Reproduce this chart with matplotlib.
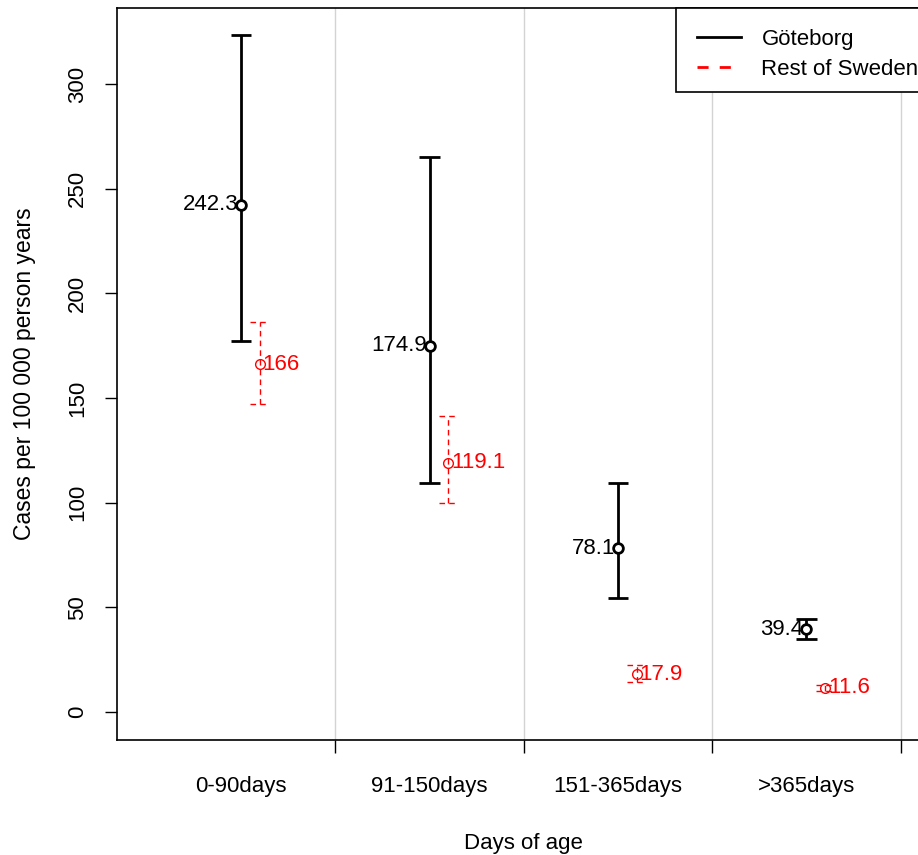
import matplotlib.pyplot as plt
import numpy as np
from matplotlib.lines import Line2D
from matplotlib.patches import Rectangle

plt.rcParams["font.family"] = ["Liberation Sans", "DejaVu Sans"]

categories = ["0-90days", "91-150days", "151-365days", ">365days"]
gbg_rate = [242.3, 174.9, 78.1, 39.4]
gbg_low = [177.2, 109.6, 54.2, 34.8]
gbg_high = [323.4, 265.0, 109.3, 44.6]
rest_rate = [166, 119.1, 17.9, 11.6]
rest_low = [147.1, 100.0, 14.3, 10.2]
rest_high = [186.4, 141.4, 22.6, 12.7]

W, H = 918, 855
fig = plt.figure(figsize=(W / 100, H / 100), dpi=100)
left, right, top, bottom = 117, 930.5, 8, 740
ax = fig.add_axes([left / W, 1 - bottom / H, (right - left) / W, (bottom - top) / H])

x = np.arange(1, len(categories) + 1)
xr = x + 0.1
fs = 16

for b in [1.5, 2.5, 3.5, 4.5]:
    ax.axvline(b, color="#d3d3d3", lw=1, zorder=0)

cap = 0.055
ax.vlines(x, gbg_low, gbg_high, color="black", lw=2)
ax.hlines(gbg_low, x - cap, x + cap, color="black", lw=2)
ax.hlines(gbg_high, x - cap, x + cap, color="black", lw=2)
ax.plot(x, gbg_rate, "o", mfc="white", mec="black", mew=2, ms=7)

capr = 0.05
dash = (0, (4, 3))
ax.vlines(xr, rest_low, rest_high, color="red", lw=1, linestyles=[dash])
ax.hlines(rest_low, xr - capr, xr + capr, color="red", lw=1, linestyles=[dash])
ax.hlines(rest_high, xr - capr, xr + capr, color="red", lw=1, linestyles=[dash])
ax.plot(xr, rest_rate, "o", mfc="none", mec="red", mew=1, ms=7)

for xi, v in zip(x, gbg_rate):
    ax.text(xi - 0.015, v, f"{v:g}", ha="right", va="center", fontsize=fs, color="black")
for xi, v in zip(xr, rest_rate):
    ax.text(xi + 0.015, v, f"{v:g}", ha="left", va="center", fontsize=fs, color="red")

ax.set_xlim(0.342, 4.658)
ax.set_ylim(-13.4, 336.3)

ax.set_xticks([1.5, 2.5, 3.5, 4.5])
ax.set_xticklabels([])
ax.set_xticks(x, minor=True)
ax.set_xticklabels(categories, minor=True, fontsize=fs)
ax.tick_params(axis="x", which="major", length=9, width=1)
ax.tick_params(axis="x", which="minor", length=0, pad=26)

ax.set_yticks(np.arange(0, 301, 50))
ax.set_yticklabels([str(v) for v in range(0, 301, 50)], rotation=90, va="center", fontsize=fs)
ax.tick_params(axis="y", length=9, width=1, pad=12)

for s in ax.spines.values():
    s.set_linewidth(1.2)

ax.set_xlabel("Days of age", fontsize=fs, labelpad=26)
ax.set_ylabel("Cases per 100 000 person years", fontsize=16.5, labelpad=22)

# legend box drawn by hand so its height matches the original
box_left, box_bottom = 0.687, (bottom - 92) / (bottom - top)
ax.add_patch(Rectangle((box_left, box_bottom), 1 - box_left, 1 - box_bottom,
                       transform=ax.transAxes, facecolor="white", edgecolor="black",
                       lw=1.2, zorder=4, clip_on=False))
handles = [Line2D([], [], color="black", lw=2),
           Line2D([], [], color="red", lw=2, ls=(0, (4, 4)))]
leg = ax.legend(handles, ["Göteborg", "Rest of Sweden"], loc="upper left",
                bbox_to_anchor=(box_left, 1), borderaxespad=0, frameon=False,
                fontsize=fs, handlelength=2, borderpad=0.95, labelspacing=0.4,
                handletextpad=0.9)
leg.set_zorder(5)

fig.savefig("out.png", dpi=100)
